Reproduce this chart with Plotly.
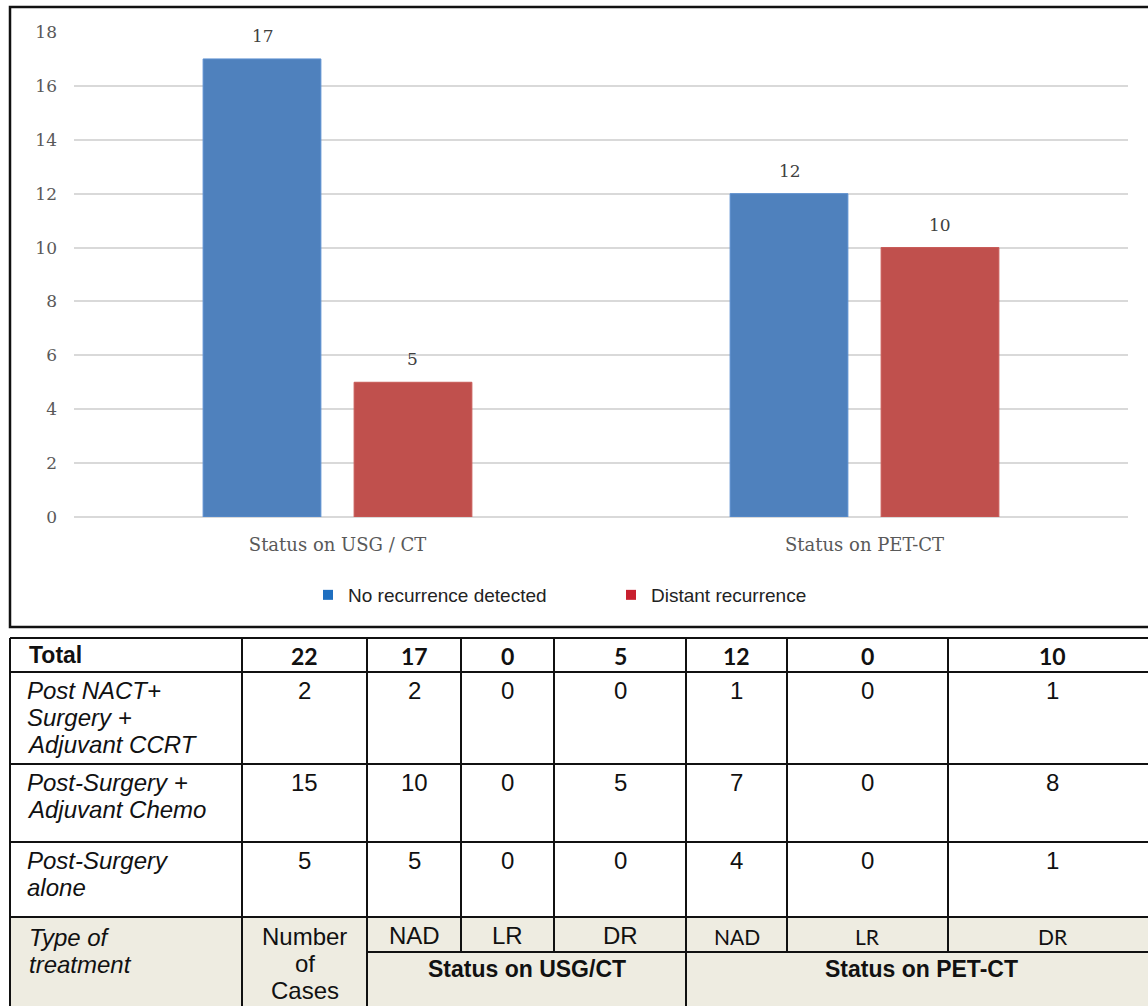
import plotly.graph_objects as go

# ---------------- data ----------------
categories = ["Status on USG / CT", "Status on PET-CT"]
no_recurrence = [17, 12]
distant_recurrence = [5, 10]
series_names = ["No recurrence detected", "Distant recurrence"]
y_ticks = [0, 2, 4, 6, 8, 10, 12, 14, 16, 18]

treatments = ["Post NACT+\nSurgery +\nAdjuvant CCRT", "Post-Surgery +\nAdjuvant Chemo", "Post-Surgery\nalone"]
cases = [2, 15, 5]
usg_nad = [2, 10, 5]
usg_lr = [0, 0, 0]
usg_dr = [0, 5, 0]
pet_nad = [1, 7, 4]
pet_lr = [0, 0, 0]
pet_dr = [1, 8, 1]
sub_headers = ["NAD", "LR", "DR", "NAD", "LR", "DR"]
group_headers = ["Status on USG/CT", "Status on PET-CT"]
first_header = "Type of\ntreatment"
cases_header = "Number\nof\nCases"
total_label = "Total"

# ---------------- layout helpers ----------------
W, H = 1148, 1006
def px(x):
    return x / W
def py(y):
    return 1 - y / H

BLUE, RED = "#4F81BD", "#C0504D"
fig = go.Figure()
fig.add_trace(go.Bar(x=categories, y=no_recurrence, name=series_names[0],
                     marker=dict(color=BLUE, line=dict(color="#5B8FD0", width=1)),
                     showlegend=False, hoverinfo="x+y"))
fig.add_trace(go.Bar(x=categories, y=distant_recurrence, name=series_names[1],
                     marker=dict(color=RED, line=dict(color="#C85A57", width=1)),
                     showlegend=False, hoverinfo="x+y"))
# legend swatches
fig.add_trace(go.Scatter(x=[None], y=[None], mode="markers", name=series_names[0],
                         marker=dict(symbol="square", size=10, color="#1F6FC0")))
fig.add_trace(go.Scatter(x=[None], y=[None], mode="markers", name=series_names[1],
                         marker=dict(symbol="square", size=10, color="#C8202F")))

annotations = []
shapes = []

SERIF = "DejaVu Serif"
# bar value labels
for vals, shift in ((no_recurrence, -75), (distant_recurrence, 75)):
    for c, v in zip(categories, vals):
        annotations.append(dict(x=c, y=v, xref="x", yref="y", text=str(v), showarrow=False,
                                xshift=shift, yshift=23, yanchor="middle",
                                font=dict(family=SERIF, size=17, color="#404040")))

# chart border box
shapes.append(dict(type="rect", xref="paper", yref="paper", x0=px(10), x1=px(1160),
                   y0=py(627), y1=py(7), line=dict(color="#111111", width=2.5)))

# ---------------- table ----------------
col_x = [10, 242, 367, 461, 554, 686, 787, 948, 1157]
row_y = [638, 672, 764, 842, 917, 952, 1010]
header_top = row_y[4]

# header background
shapes.append(dict(type="rect", xref="paper", yref="paper", x0=px(col_x[0]), x1=px(col_x[-1]),
                   y0=py(row_y[-1]), y1=py(header_top), fillcolor="#EEECE1",
                   line=dict(width=0), layer="below"))

LW = 2
def hline(y, xa, xb):
    shapes.append(dict(type="line", xref="paper", yref="paper", x0=px(xa), x1=px(xb),
                       y0=py(y), y1=py(y), line=dict(color="#111111", width=LW)))
def vline(x, ya, yb):
    shapes.append(dict(type="line", xref="paper", yref="paper", x0=px(x), x1=px(x),
                       y0=py(ya), y1=py(yb), line=dict(color="#111111", width=LW)))

for y in row_y[:5]:
    hline(y, col_x[0], col_x[-1])
hline(row_y[5], col_x[2], col_x[-1])
for i, x in enumerate(col_x):
    if i in (0, 1, 2, 5, 8):
        vline(x, row_y[0], row_y[-1])
    else:
        vline(x, row_y[0], row_y[5])

LINE = 27
def text(x, y, s, size=24, family="Liberation Sans", bold=False, italic=False,
         xanchor="center", color="#111111"):
    for k, line in enumerate(s.split("\n")):
        t = line
        if bold:
            t = "<b>" + t + "</b>"
        if italic:
            t = "<i>" + t + "</i>"
        annotations.append(dict(x=px(x), y=py(y + k * LINE), xref="paper", yref="paper",
                                text=t, showarrow=False, xanchor=xanchor, yanchor="middle",
                                font=dict(family=family, size=size, color=color)))

def ccenter(i):
    return (col_x[i] + col_x[i + 1]) / 2

columns = [cases, usg_nad, usg_lr, usg_dr, pet_nad, pet_lr, pet_dr]

# total row
text(27, 655, total_label, bold=True, xanchor="left", size=23)
for j, col in enumerate(columns):
    text(ccenter(j + 1), 656, str(sum(col)), family="Lato", bold=True, size=23)

# body rows
for r, name in enumerate(treatments):
    top = row_y[r + 1]
    text(25, top + 18, name, italic=True, xanchor="left")
    for j, col in enumerate(columns):
        text(ccenter(j + 1), top + 18, str(col[r]))

# header
text(27, 937, first_header, italic=True, xanchor="left")
text(ccenter(1), 936, cases_header)
for j, s in enumerate(sub_headers):
    if j < 3:
        text(ccenter(j + 2), 935, s)
    else:
        text(ccenter(j + 2), 936, s, family="Lato", size=21)
text((col_x[2] + col_x[5]) / 2, 969, group_headers[0], bold=True, size=23)
text((col_x[5] + col_x[8]) / 2, 969, group_headers[1], bold=True, size=23)

fig.update_layout(
    width=W, height=H,
    margin=dict(l=0, r=0, t=0, b=0, autoexpand=False),
    paper_bgcolor="white", plot_bgcolor="white",
    barmode="group", bargap=0.427, bargroupgap=0.22,
    xaxis=dict(domain=[px(74), px(1128)], showgrid=False, showline=False, ticks="",
               automargin=False,
               tickfont=dict(family=SERIF, size=18, color="#595959"),
               ticklabelstandoff=15, fixedrange=True),
    yaxis=dict(domain=[py(517), py(32)], range=[0, 18], tickvals=y_ticks,
               automargin=False,
               showgrid=True, gridcolor="#D9D9D9", gridwidth=1.5,
               zeroline=True, zerolinecolor="#D9D9D9", zerolinewidth=1.5,
               showline=False, ticks="",
               tickfont=dict(family=SERIF, size=17, color="#595959"),
               ticklabelstandoff=16, fixedrange=True),
    legend=dict(orientation="h", x=px(308), xanchor="left", y=py(595), yanchor="middle",
                entrywidth=258, entrywidthmode="pixels",
                font=dict(family="Liberation Sans", size=19, color="#222222"),
                bgcolor="rgba(0,0,0,0)"),
    shapes=shapes, annotations=annotations,
)

fig.write_html("out.html")
